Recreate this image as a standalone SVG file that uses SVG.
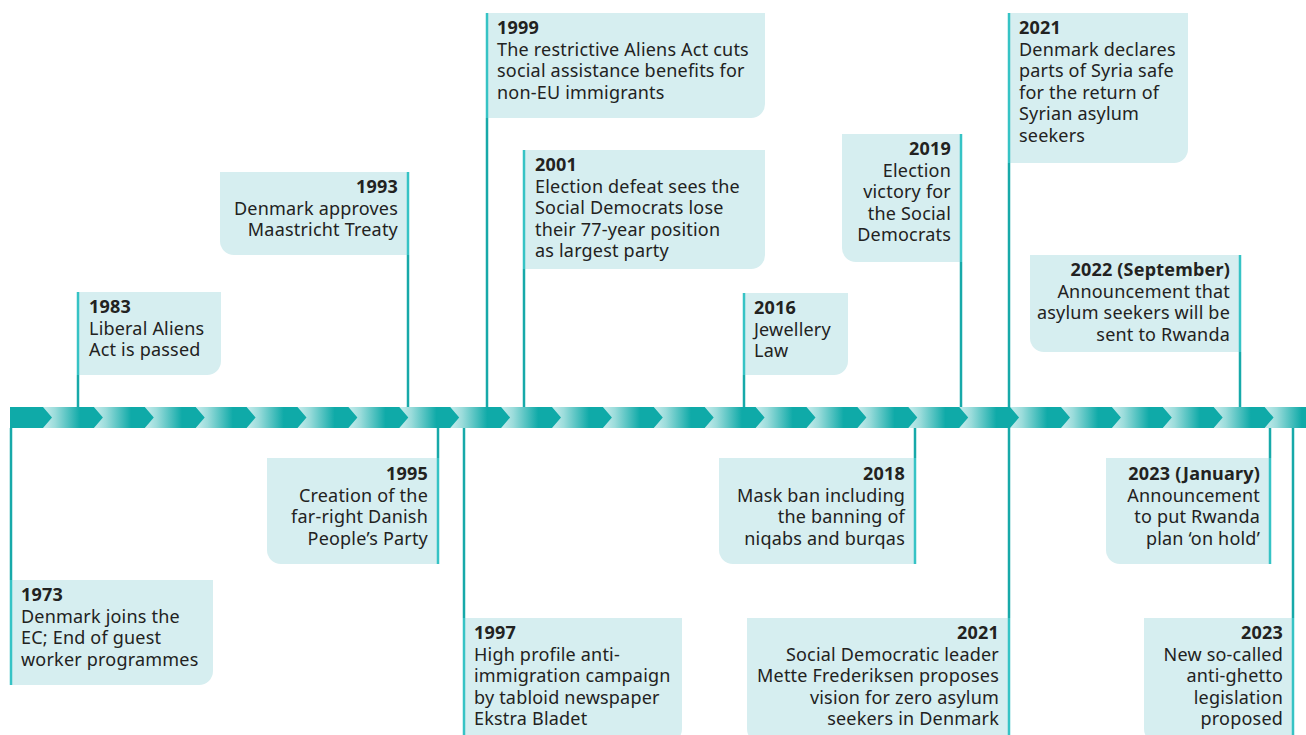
<svg xmlns="http://www.w3.org/2000/svg" width="1306" height="735" viewBox="0 0 1306 735">
<style>
.box{fill:#d6eef0}
.ln{stroke:#17a9a9;stroke-width:2.5;fill:none}
.edge{stroke:#36c3c5;stroke-width:2.5;fill:none}
text{font-family:"Noto Sans","Liberation Sans",sans-serif;font-size:18px;letter-spacing:0.2px;fill:#222221}
.y{font-weight:bold}
.r{text-anchor:end}
</style>
<defs>
<linearGradient id="g" x1="0" y1="0" x2="1" y2="0">
<stop offset="0" stop-color="#c6ecec"/>
<stop offset="0.2" stop-color="#9bdcdb"/>
<stop offset="0.62" stop-color="#0faaa8"/>
<stop offset="1" stop-color="#0faaa8"/>
</linearGradient>
<polygon id="chev" points="-9,407 41.9,407 50.9,417.5 41.9,428 -9,428 0,417.5" fill="url(#g)"/>
</defs>
<g id="timeline">
<rect x="10" y="407" width="1296" height="21" fill="#0faaa8"/>
<use href="#chev" x="52"/><use href="#chev" x="102.9"/><use href="#chev" x="153.8"/><use href="#chev" x="204.7"/><use href="#chev" x="255.6"/><use href="#chev" x="306.5"/><use href="#chev" x="357.4"/><use href="#chev" x="408.3"/><use href="#chev" x="459.2"/><use href="#chev" x="510.1"/><use href="#chev" x="561"/><use href="#chev" x="611.9"/><use href="#chev" x="662.8"/><use href="#chev" x="713.7"/><use href="#chev" x="764.6"/><use href="#chev" x="815.5"/><use href="#chev" x="866.4"/><use href="#chev" x="917.3"/><use href="#chev" x="968.2"/><use href="#chev" x="1019.1"/><use href="#chev" x="1070"/><use href="#chev" x="1120.9"/><use href="#chev" x="1171.8"/><use href="#chev" x="1222.7"/><use href="#chev" x="1273.6"/>
</g>
<g id="connectors">
<line class="ln" x1="78" y1="375" x2="78" y2="407"/>
<line class="ln" x1="408" y1="255" x2="408" y2="407"/>
<line class="ln" x1="487" y1="118" x2="487" y2="407"/>
<line class="ln" x1="524" y1="269" x2="524" y2="407"/>
<line class="ln" x1="744" y1="375" x2="744" y2="407"/>
<line class="ln" x1="961" y1="262" x2="961" y2="407"/>
<line class="ln" x1="1009" y1="163" x2="1009" y2="407"/>
<line class="ln" x1="1240" y1="352" x2="1240" y2="407"/>
<line class="ln" x1="11" y1="428" x2="11" y2="580"/>
<line class="ln" x1="438" y1="428" x2="438" y2="458"/>
<line class="ln" x1="464" y1="428" x2="464" y2="618"/>
<line class="ln" x1="915" y1="428" x2="915" y2="458"/>
<line class="ln" x1="1009" y1="428" x2="1009" y2="618"/>
<line class="ln" x1="1270" y1="428" x2="1270" y2="458"/>
<line class="ln" x1="1293" y1="428" x2="1293" y2="618"/>
</g>
<g id="n1983">
<path class="box" d="M78 292H221V361A14 14 0 0 1 207 375H78Z"/>
<line class="edge" x1="78" y1="292" x2="78" y2="375"/>
<text x="89" y="313"><tspan class="y">1983</tspan><tspan x="89" dy="21.6">Liberal Aliens</tspan><tspan x="89" dy="21.6">Act is passed</tspan></text>
</g>
<g id="n1993">
<path class="box" d="M220 172H408V255H234A14 14 0 0 1 220 241Z"/>
<line class="edge" x1="408" y1="172" x2="408" y2="255"/>
<text class="r" x="398" y="193"><tspan class="y">1993</tspan><tspan x="398" dy="21.6">Denmark approves</tspan><tspan x="398" dy="21.6">Maastricht Treaty</tspan></text>
</g>
<g id="n1999">
<path class="box" d="M487 13H765V104A14 14 0 0 1 751 118H487Z"/>
<line class="edge" x1="487" y1="13" x2="487" y2="118"/>
<text x="497" y="34"><tspan class="y">1999</tspan><tspan x="497" dy="21.6">The restrictive Aliens Act cuts</tspan><tspan x="497" dy="21.6">social assistance benefits for</tspan><tspan x="497" dy="21.6">non-EU immigrants</tspan></text>
</g>
<g id="n2001">
<path class="box" d="M524 150H765V255A14 14 0 0 1 751 269H524Z"/>
<line class="edge" x1="524" y1="150" x2="524" y2="269"/>
<text x="535" y="171"><tspan class="y">2001</tspan><tspan x="535" dy="21.6">Election defeat sees the</tspan><tspan x="535" dy="21.6">Social Democrats lose</tspan><tspan x="535" dy="21.6">their 77-year position</tspan><tspan x="535" dy="21.6">as largest party</tspan></text>
</g>
<g id="n2016">
<path class="box" d="M744 293H848V361A14 14 0 0 1 834 375H744Z"/>
<line class="edge" x1="744" y1="293" x2="744" y2="375"/>
<text x="754" y="314"><tspan class="y">2016</tspan><tspan x="754" dy="21.6">Jewellery</tspan><tspan x="754" dy="21.6">Law</tspan></text>
</g>
<g id="n2019">
<path class="box" d="M842 134H961V262H856A14 14 0 0 1 842 248Z"/>
<line class="edge" x1="961" y1="134" x2="961" y2="262"/>
<text class="r" x="951" y="155"><tspan class="y">2019</tspan><tspan x="951" dy="21.6">Election</tspan><tspan x="951" dy="21.6">victory for</tspan><tspan x="951" dy="21.6">the Social</tspan><tspan x="951" dy="21.6">Democrats</tspan></text>
</g>
<g id="n2021a">
<path class="box" d="M1009 13H1188V149A14 14 0 0 1 1174 163H1009Z"/>
<line class="edge" x1="1009" y1="13" x2="1009" y2="163"/>
<text x="1019" y="34"><tspan class="y">2021</tspan><tspan x="1019" dy="21.6">Denmark declares</tspan><tspan x="1019" dy="21.6">parts of Syria safe</tspan><tspan x="1019" dy="21.6">for the return of</tspan><tspan x="1019" dy="21.6">Syrian asylum</tspan><tspan x="1019" dy="21.6">seekers</tspan></text>
</g>
<g id="n2022">
<path class="box" d="M1030 255H1240V352H1044A14 14 0 0 1 1030 338Z"/>
<line class="edge" x1="1240" y1="255" x2="1240" y2="352"/>
<text class="r" x="1230" y="276"><tspan class="y">2022 (September)</tspan><tspan x="1230" dy="21.6">Announcement that</tspan><tspan x="1230" dy="21.6">asylum seekers will be</tspan><tspan x="1230" dy="21.6">sent to Rwanda</tspan></text>
</g>
<g id="n1973">
<path class="box" d="M11 580H213V671A14 14 0 0 1 199 685H11Z"/>
<line class="edge" x1="11" y1="580" x2="11" y2="685"/>
<text x="21" y="601"><tspan class="y">1973</tspan><tspan x="21" dy="21.6">Denmark joins the</tspan><tspan x="21" dy="21.6">EC; End of guest</tspan><tspan x="21" dy="21.6">worker programmes</tspan></text>
</g>
<g id="n1995">
<path class="box" d="M267 458H438V564H281A14 14 0 0 1 267 550Z"/>
<line class="edge" x1="438" y1="458" x2="438" y2="564"/>
<text class="r" x="428" y="480"><tspan class="y">1995</tspan><tspan x="428" dy="21.6">Creation of the</tspan><tspan x="428" dy="21.6">far-right Danish</tspan><tspan x="428" dy="21.6">People’s Party</tspan></text>
</g>
<g id="n1997">
<path class="box" d="M464 618H682V729A14 14 0 0 1 668 743H464Z"/>
<line class="edge" x1="464" y1="618" x2="464" y2="743"/>
<text x="474" y="639"><tspan class="y">1997</tspan><tspan x="474" dy="21.6">High profile anti-</tspan><tspan x="474" dy="21.6">immigration campaign</tspan><tspan x="474" dy="21.6">by tabloid newspaper</tspan><tspan x="474" dy="21.6">Ekstra Bladet</tspan></text>
</g>
<g id="n2018">
<path class="box" d="M719 458H915V564H733A14 14 0 0 1 719 550Z"/>
<line class="edge" x1="915" y1="458" x2="915" y2="564"/>
<text class="r" x="905" y="480"><tspan class="y">2018</tspan><tspan x="905" dy="21.6">Mask ban including</tspan><tspan x="905" dy="21.6">the banning of</tspan><tspan x="905" dy="21.6">niqabs and burqas</tspan></text>
</g>
<g id="n2021b">
<path class="box" d="M747 618H1009V743H761A14 14 0 0 1 747 729Z"/>
<line class="edge" x1="1009" y1="618" x2="1009" y2="743"/>
<text class="r" x="999" y="639"><tspan class="y">2021</tspan><tspan x="999" dy="21.6">Social Democratic leader</tspan><tspan x="999" dy="21.6">Mette Frederiksen proposes</tspan><tspan x="999" dy="21.6">vision for zero asylum</tspan><tspan x="999" dy="21.6">seekers in Denmark</tspan></text>
</g>
<g id="n2023a">
<path class="box" d="M1106 458H1270V564H1120A14 14 0 0 1 1106 550Z"/>
<line class="edge" x1="1270" y1="458" x2="1270" y2="564"/>
<text class="r" x="1260" y="480"><tspan class="y">2023 (January)</tspan><tspan x="1260" dy="21.6">Announcement</tspan><tspan x="1260" dy="21.6">to put Rwanda</tspan><tspan x="1260" dy="21.6">plan ‘on hold’</tspan></text>
</g>
<g id="n2023b">
<path class="box" d="M1144 618H1293V743H1158A14 14 0 0 1 1144 729Z"/>
<line class="edge" x1="1293" y1="618" x2="1293" y2="743"/>
<text class="r" x="1283" y="639"><tspan class="y">2023</tspan><tspan x="1283" dy="21.6">New so-called</tspan><tspan x="1283" dy="21.6">anti-ghetto</tspan><tspan x="1283" dy="21.6">legislation</tspan><tspan x="1283" dy="21.6">proposed</tspan></text>
</g>
</svg>
